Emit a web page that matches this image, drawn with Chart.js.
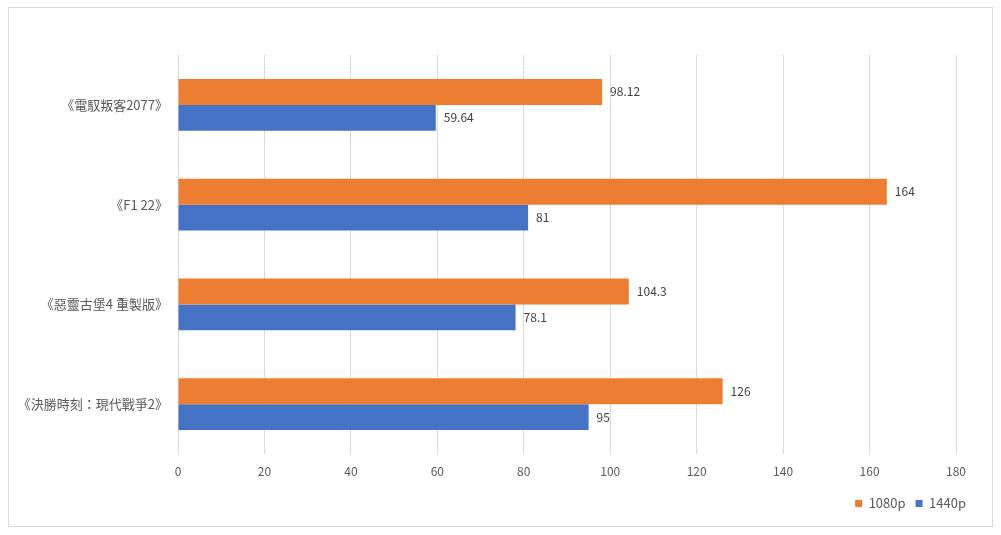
<!DOCTYPE html>
<html>
<head>
<meta charset="utf-8">
<script src="https://cdn.jsdelivr.net/npm/chart.js@4/dist/chart.umd.min.js"></script>
<style>
  body { margin:0; background:#fff; }
  #wrap { position:relative; width:1001px; height:535px; }
  #frame { position:absolute; left:8px; top:7px; width:983px; height:518px; border:1px solid #d9d9d9; pointer-events:none; }
</style>
</head>
<body>
<div id="wrap">
  <canvas id="gameChart" width="1001" height="535"></canvas>
  <div id="frame"></div>
</div>
<script>
let games = ["《電馭叛客2077》", "《F1 22》", "《惡靈古堡4 重製版》", "《決勝時刻：現代戰爭2》"];
let fps1080 = [98.12, 164, 104.3, 126];
let fps1440 = [59.64, 81, 78.1, 95];
let xTicks = [0, 20, 40, 60, 80, 100, 120, 140, 160, 180];

const fontName = '"Noto Sans CJK TC", "Noto Sans", sans-serif';

// draw value next to the end of each bar
const barValues = {
    id: 'barValues',
    afterLayout(chart) {
        // legend sits a bit further right than the plot area
        let lg = chart.legend;
        lg.left += 20; lg.right += 20;
        lg.top += 3; lg.bottom += 3;
    },
    afterDatasetsDraw(chart) {
        let ctx = chart.ctx;
        ctx.save();
        ctx.font = '12px ' + fontName;
        ctx.fillStyle = '#404040';
        ctx.textBaseline = 'middle';
        chart.data.datasets.forEach((ds, i) => {
            chart.getDatasetMeta(i).data.forEach((bar, j) => {
                ctx.fillText(ds.data[j], bar.x + 8, bar.y);
            });
        });
        ctx.restore();
    }
};

new Chart(document.getElementById('gameChart'), {
    type: 'bar',
    data: {
        labels: games,
        datasets: [
            { label: '1080p', data: fps1080, backgroundColor: '#ED7D31' },
            { label: '1440p', data: fps1440, backgroundColor: '#4472C4' }
        ]
    },
    options: {
        indexAxis: 'y',
        responsive: false,
        animation: false,
        layout: { padding: { top: 55, right: 45, bottom: 18, left: 0 } },
        datasets: { bar: { categoryPercentage: 0.52, barPercentage: 1 } },
        scales: {
            x: {
                min: 0, max: 180,
                afterBuildTicks: scale => { scale.ticks = xTicks.map(v => ({ value: v })); },
                afterFit: scale => { scale.height = 30; },
                grid: { color: '#d9d9d9', drawTicks: false },
                border: { display: false },
                ticks: { color: '#595959', font: { size: 12, family: fontName }, padding: 10 }
            },
            y: {
                afterFit: scale => { scale.width = 178; },
                grid: { display: false },
                border: { display: false },
                ticks: { color: '#595959', font: { size: 13, family: fontName }, padding: 2 }
            }
        },
        plugins: {
            legend: {
                position: 'bottom',
                align: 'end',
                labels: { boxWidth: 7, boxHeight: 7, padding: 10, color: '#595959', font: { size: 13, family: fontName } }
            },
            tooltip: { enabled: false }
        }
    },
    plugins: [barValues]
});
</script>
</body>
</html>
